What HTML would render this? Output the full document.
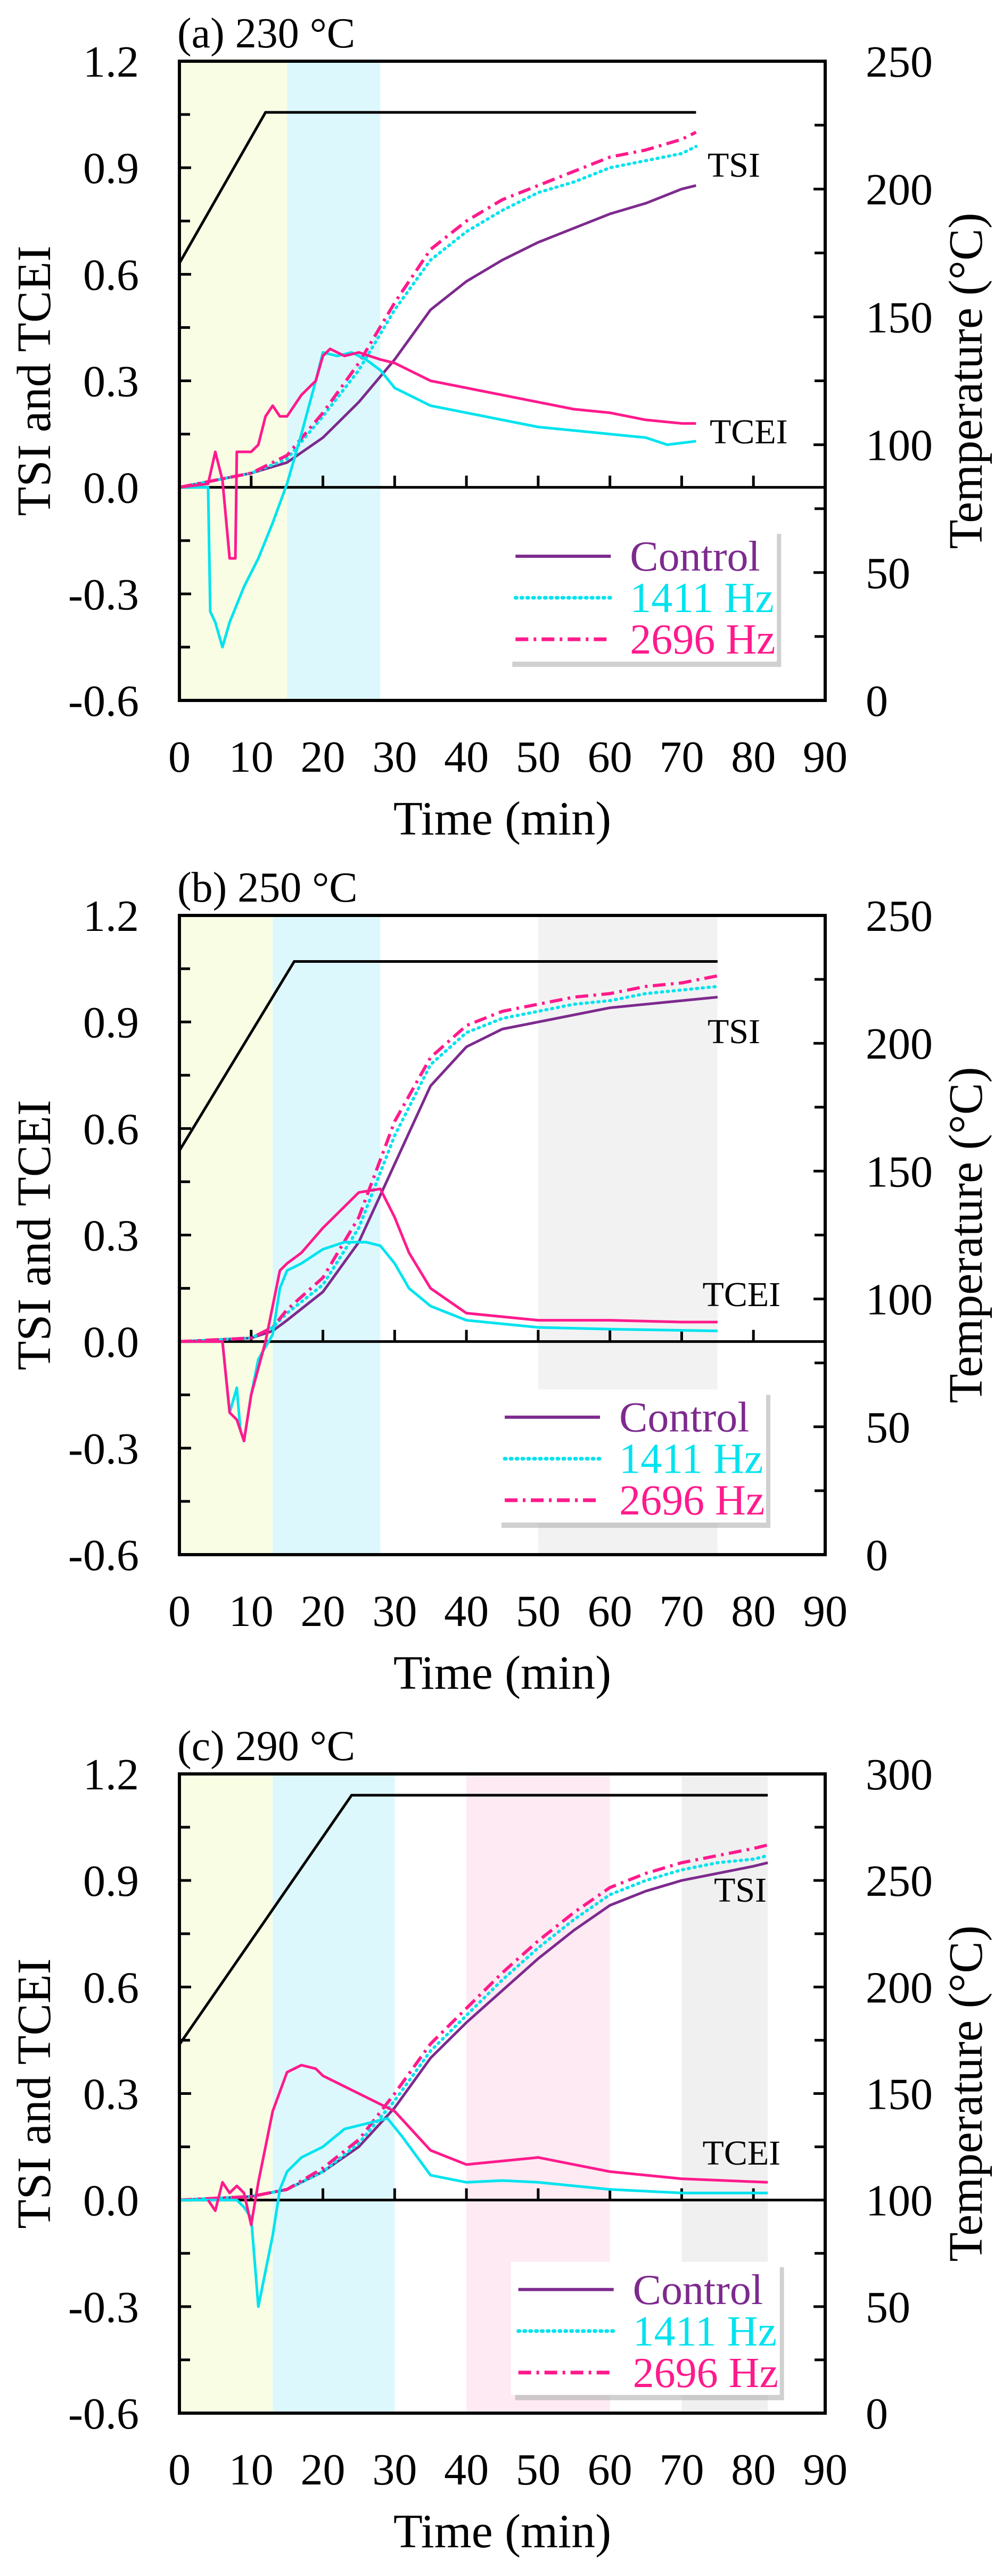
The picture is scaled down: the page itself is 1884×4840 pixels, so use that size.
<!DOCTYPE html>
<html><head><meta charset="utf-8">
<style>
html,body{margin:0;padding:0;background:#fff;}
svg{display:block;}
svg text{font-family:"Liberation Serif",serif;}
</style></head>
<body>
<svg id="fig" width="1884" height="4840" viewBox="0 0 1884 4840" xmlns="http://www.w3.org/2000/svg"></svg>
<script>
// ---------- DATA ----------
const xTicks = [0,10,20,30,40,50,60,70,80,90];
const yTicks = [-0.6,-0.3,0.0,0.3,0.6,0.9,1.2];
const panelTitles = ["(a) 230 °C","(b) 250 °C","(c) 290 °C"];
const tempMaxA = 250, tempMaxB = 250, tempMaxC = 300;
const tempTicksA = [0,50,100,150,200,250];
const tempTicksB = [0,50,100,150,200,250];
const tempTicksC = [0,50,100,150,200,250,300];
// temperature profile [time, °C]
const tempA = [[0,171],[12,230],[72,230]];
const tempB = [[0,158],[16,232],[75,232]];
const tempC = [[0,173],[24,290],[82,290]];
// shaded bands [start, end, color]
const bandsA = [[0,15,"#f8fde4"],[15,28,"#ddf8fc"]];
const bandsB = [[0,13,"#f8fde4"],[13,28,"#ddf8fc"],[50,75,"#f2f2f2"]];
const bandsC = [[0,13,"#f8fde4"],[13,30,"#ddf8fc"],[40,60,"#fdeaf2"],[70,82,"#f0f0f0"]];

// Panel A series
const aCtrlT=[0,5,10,15,20,25,30,35,40,45,50,55,60,65,70,72];
const aCtrlV=[0,0.02,0.04,0.07,0.14,0.24,0.36,0.5,0.58,0.64,0.69,0.73,0.77,0.8,0.84,0.85];
const a1411T=[0,5,10,15,20,25,30,35,40,45,50,55,60,65,70,72];
const a1411V=[0,0.02,0.04,0.08,0.2,0.33,0.5,0.64,0.72,0.78,0.83,0.86,0.9,0.92,0.94,0.96];
const a2696T=[0,5,10,15,20,25,30,35,40,45,50,55,60,65,70,72];
const a2696V=[0,0.02,0.04,0.09,0.21,0.35,0.52,0.67,0.75,0.81,0.85,0.89,0.93,0.95,0.98,1.0];
const aE1411T=[0,4,4.3,5,6,7,9,11,13,15,17,19,20,22,24,26,28,30,35,40,45,50,55,60,65,68,72];
const aE1411V=[0,0,-0.35,-0.38,-0.45,-0.38,-0.28,-0.2,-0.1,0.01,0.15,0.3,0.38,0.37,0.38,0.36,0.33,0.28,0.23,0.21,0.19,0.17,0.16,0.15,0.14,0.12,0.13];
const aE2696T=[0,4,5,6,7,7.8,8,9,10,11,12,13,14,15,17,19,20,21,23,25,28,30,35,40,45,50,55,60,65,70,72];
const aE2696V=[0,0.01,0.1,0.02,-0.2,-0.2,0.1,0.1,0.1,0.12,0.2,0.23,0.2,0.2,0.26,0.3,0.37,0.39,0.37,0.38,0.36,0.35,0.3,0.28,0.26,0.24,0.22,0.21,0.19,0.18,0.18];

// Panel B series
const bCtrlT=[0,10,13,15,20,25,30,35,40,45,50,55,60,65,70,75];
const bCtrlV=[0,0.01,0.03,0.06,0.14,0.28,0.5,0.72,0.83,0.88,0.9,0.92,0.94,0.95,0.96,0.97];
const b1411T=[0,10,13,15,20,25,30,35,40,45,50,55,60,65,70,75];
const b1411V=[0,0.01,0.04,0.08,0.16,0.32,0.58,0.78,0.87,0.91,0.93,0.95,0.96,0.98,0.99,1.0];
const b2696T=[0,10,13,15,20,25,30,35,40,45,50,55,60,65,70,75];
const b2696V=[0,0.01,0.04,0.09,0.18,0.35,0.62,0.8,0.89,0.93,0.95,0.97,0.98,1.0,1.01,1.03];
const bE1411T=[0,6,7,8,8.5,9,10,11,13,14,15,17,20,23,26,28,30,32,35,40,50,60,75];
const bE1411V=[0,0,-0.2,-0.13,-0.25,-0.28,-0.15,-0.05,0.02,0.15,0.2,0.22,0.26,0.28,0.28,0.27,0.22,0.15,0.1,0.06,0.04,0.035,0.03];
const bE2696T=[0,6,7,8,9,10,12,14,15,17,20,23,25,28,30,32,35,40,50,60,70,75];
const bE2696V=[0,0,-0.2,-0.22,-0.28,-0.15,0,0.2,0.22,0.25,0.32,0.38,0.42,0.43,0.35,0.25,0.15,0.08,0.06,0.06,0.055,0.055];

// Panel C series
const cCtrlT=[0,10,15,20,25,30,35,40,45,50,55,60,65,70,75,80,82];
const cCtrlV=[0,0.01,0.03,0.08,0.15,0.26,0.4,0.5,0.59,0.68,0.76,0.83,0.87,0.9,0.92,0.94,0.95];
const c1411T=[0,10,15,20,25,30,35,40,45,50,55,60,65,70,75,80,82];
const c1411V=[0,0.01,0.03,0.08,0.16,0.28,0.42,0.52,0.62,0.71,0.79,0.86,0.9,0.93,0.95,0.96,0.97];
const c2696T=[0,10,15,20,25,30,35,40,45,50,55,60,65,70,75,80,82];
const c2696V=[0,0.01,0.03,0.09,0.17,0.3,0.44,0.54,0.64,0.73,0.81,0.88,0.92,0.95,0.97,0.99,1.0];
const cE1411T=[0,8,9,10,11,12,13,14,15,17,20,23,27,29,31,35,40,45,50,55,60,70,82];
const cE1411V=[0,0,-0.02,-0.05,-0.3,-0.2,-0.1,0.03,0.08,0.12,0.15,0.2,0.22,0.23,0.18,0.07,0.05,0.055,0.05,0.04,0.03,0.02,0.02];
const cE2696T=[4,5,6,7,8,9,10,11,13,15,17,19,20,25,30,35,40,45,50,55,60,70,82];
const cE2696V=[0,-0.03,0.05,0.02,0.04,0.02,-0.07,0.05,0.25,0.36,0.38,0.37,0.35,0.3,0.25,0.14,0.1,0.11,0.12,0.1,0.08,0.06,0.05];

// ---------- DRAW ----------
const NS="http://www.w3.org/2000/svg";
const svg=document.getElementById('fig');
function mk(tag,attrs,parent){const e=document.createElementNS(NS,tag);for(const k in attrs)e.setAttribute(k,attrs[k]);(parent||svg).appendChild(e);return e;}

const L=337,R=1550,PH=1201;
const COL_CTRL="#7d2a8e",COL_1411="#00e3ee",COL_2696="#ff1a8c";
const FF='"Liberation Serif", serif';

function panel(idx,top,title,tempMax,tempTicks,temp,bands,series,legendPos,labelPos){
  const g=mk('g',{'font-family':FF});
  
  
  const xs=t=>L+(t/90)*(R-L);
  const ys=v=>top+(1.2-v)/1.8*PH;
  const yt=T=>top+PH-(T/tempMax)*PH;
  bands.forEach(b=>{
    const r=mk('rect',{x:xs(b[0]),y:top,width:xs(b[1])-xs(b[0]),height:PH,fill:b[2]},g);
    
    
  });
  const tt=mk('text',{x:L-4,y:top-26,'font-size':80,fill:'#000','font-family':FF},g);tt.textContent=title;
  
  
  yTicks.forEach(v=>{
    const y=ys(v);
    mk('line',{x1:L,x2:L+22,y1:y,y2:y,stroke:'#000','stroke-width':5},g);
    const t=mk('text',{x:L-76,y:y+29,'font-size':84,'text-anchor':'end','font-family':FF},g);t.textContent=v.toFixed(1);
    
    
  });
  for(let v=-0.45;v<1.2;v+=0.3){const y=ys(v);mk('line',{x1:L,x2:L+20,y1:y,y2:y,stroke:'#000','stroke-width':5},g);}
  tempTicks.forEach(T=>{
    const y=yt(T);
    mk('line',{x1:R-22,x2:R,y1:y,y2:y,stroke:'#000','stroke-width':5},g);
    const t=mk('text',{x:R+76,y:y+29,'font-size':84,'font-family':FF},g);t.textContent=T;
    
    
  });
  for(let T=25;T<tempMax;T+=50){const y=yt(T);mk('line',{x1:R-20,x2:R,y1:y,y2:y,stroke:'#000','stroke-width':5},g);}
  const y0=ys(0);
  xTicks.forEach(t=>{
    const x=xs(t);
    if(t>0&&t<90)mk('line',{x1:x,x2:x,y1:y0,y2:y0-22,stroke:'#000','stroke-width':5},g);
    const lb=mk('text',{x:x,y:top+PH+134,'font-size':84,'text-anchor':'middle','font-family':FF},g);lb.textContent=t;
    
    
  });
  mk('line',{x1:L,x2:R,y1:y0,y2:y0,stroke:'#000','stroke-width':5},g);
  const tl=mk('polyline',{points:temp.map(p=>xs(p[0])+','+yt(p[1])).join(' '),fill:'none',stroke:'#000','stroke-width':5},g);
  
  
  series.forEach(s=>{
    const pts=s.t.map((t,i)=>xs(t)+','+ys(s.v[i])).join(' ');
    const a={points:pts,fill:'none',stroke:s.c,'stroke-width':s.dash?6:5,'stroke-linejoin':'round'};
    if(s.dash)a['stroke-dasharray']=s.dash;
    if(s.dash==='2 9')a['stroke-linecap']='round';
    const p=mk('polyline',a,g);
    
    
  });
  mk('rect',{x:L,y:top,width:R-L,height:PH,fill:'none',stroke:'#000','stroke-width':6},g);
  const l1=mk('text',{x:xs(labelPos[0]),y:ys(labelPos[1]),'font-size':66,'font-family':FF},g);l1.textContent='TSI';
  
  
  const l2=mk('text',{x:xs(labelPos[2]),y:ys(labelPos[3]),'font-size':66,'font-family':FF},g);l2.textContent='TCEI';
  
  
  const lx=xs(legendPos[0]),ly=ys(legendPos[1]);
  const lg=mk('g',{},g);
  
  
  mk('rect',{x:lx+8,y:ly+10,width:505,height:250,fill:'#b0b0b0',opacity:0.6},lg);
  mk('rect',{x:lx,y:ly,width:505,height:250,fill:'#fff'},lg);
  const ents=[["Control",COL_CTRL,null],["1411 Hz",COL_1411,'2 9'],["2696 Hz",COL_2696,'24 10 5 10']];
  ents.forEach((e,i)=>{
    const yy=ly+52+i*78;
    const la={x1:lx+14,x2:lx+193,y1:yy,y2:yy,stroke:e[1],'stroke-width':e[2]?7:6};
    if(e[2]){la['stroke-dasharray']=e[2];}
    if(e[2]==='2 9')la['stroke-linecap']='round';
    mk('line',la,lg);
    const t=mk('text',{x:lx+229,y:yy+27,'font-size':80,fill:e[1],'font-family':FF},lg);t.textContent=e[0];
    
    
  });
  const yt1=mk('text',{x:0,y:0,'font-size':90,'text-anchor':'middle','font-family':FF,transform:`translate(94,${ys(0.3)}) rotate(-90)`},g);yt1.textContent='TSI and TCEI';
  
  
  const yt2=mk('text',{x:0,y:0,'font-size':90,'text-anchor':'middle','font-family':FF,transform:`translate(1844,${top+PH/2}) rotate(-90)`},g);yt2.textContent='Temperature (°C)';
  
  
  const xt=mk('text',{x:(L+R)/2,y:top+PH+252,'font-size':90,'text-anchor':'middle','font-family':FF},g);xt.textContent='Time (min)';
  
  
}

function S(name,t,v,c,dash){return {name:name,t:t,v:v,c:c,dash:dash};}

panel(0,115,panelTitles[0],tempMaxA,tempTicksA,tempA,bandsA,[
  S('control-tsi',aCtrlT,aCtrlV,COL_CTRL,null),
  S('hz1411-tsi',a1411T,a1411V,COL_1411,'2 9'),
  S('hz2696-tsi',a2696T,a2696V,COL_2696,'24 10 5 10'),
  S('hz1411-tcei',aE1411T,aE1411V,COL_1411,null),
  S('hz2696-tcei',aE2696T,aE2696V,COL_2696,null)
],[45.8,-0.116],[73.6,0.875,73.9,0.124]);

panel(1,1720,panelTitles[1],tempMaxB,tempTicksB,tempB,bandsB,[
  S('control-tsi',bCtrlT,bCtrlV,COL_CTRL,null),
  S('hz1411-tsi',b1411T,b1411V,COL_1411,'2 9'),
  S('hz2696-tsi',b2696T,b2696V,COL_2696,'24 10 5 10'),
  S('hz1411-tcei',bE1411T,bE1411V,COL_1411,null),
  S('hz2696-tcei',bE2696T,bE2696V,COL_2696,null)
],[44.3,-0.135],[73.6,0.84,72.9,0.1]);

panel(2,3333,panelTitles[2],tempMaxC,tempTicksC,tempC,bandsC,[
  S('control-tsi',cCtrlT,cCtrlV,COL_CTRL,null),
  S('hz1411-tsi',c1411T,c1411V,COL_1411,'2 9'),
  S('hz2696-tsi',c2696T,c2696V,COL_2696,'24 10 5 10'),
  S('hz1411-tcei',cE1411T,cE1411V,COL_1411,null),
  S('hz2696-tcei',cE2696T,cE2696V,COL_2696,null)
],[46.2,-0.174],[74.5,0.84,72.9,0.1]);
</script>
</body></html>
